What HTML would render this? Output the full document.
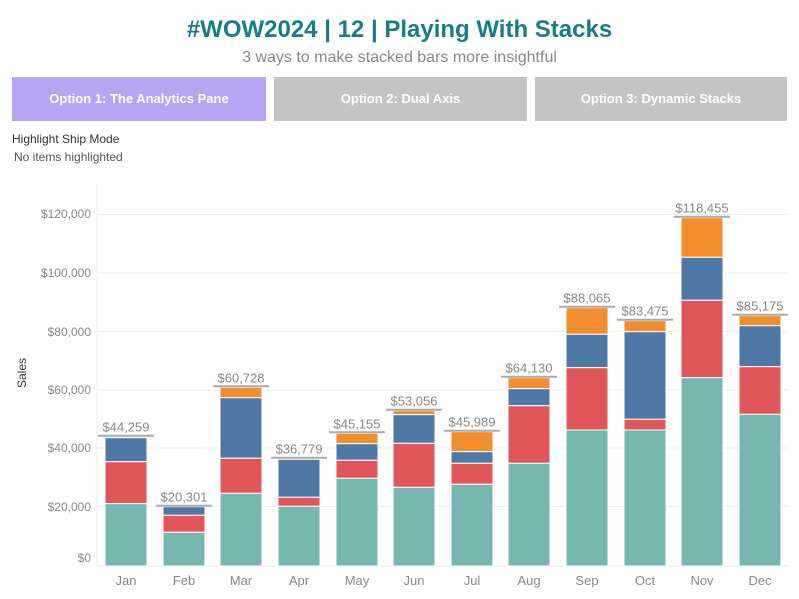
<!DOCTYPE html>
<html><head><meta charset="utf-8"><style>
body{margin:0;width:799px;height:599px;background:#fff;font-family:"Liberation Sans",sans-serif;overflow:hidden;position:relative}
.t{position:absolute;left:0;width:799px;text-align:center}
.btn{position:absolute;top:77px;height:44px;line-height:44px;text-align:center;color:#fff;font-weight:bold;font-size:13px}
</style></head><body>
<div class="t" style="top:16px;font-size:24px;font-weight:bold;color:#177e89">#WOW2024 | 12 | Playing With Stacks</div>
<div class="t" style="top:49px;font-size:16px;color:#888">3 ways to make stacked bars more insightful</div>
<div class="btn" style="left:12px;width:254px;background:#b7a4f3">Option 1: The Analytics Pane</div>
<div class="btn" style="left:274px;width:253px;background:#c4c4c4">Option 2: Dual Axis</div>
<div class="btn" style="left:535px;width:252px;background:#c4c4c4">Option 3: Dynamic Stacks</div>
<div style="position:absolute;left:12px;top:132px;font-size:12px;color:#333">Highlight Ship Mode</div>
<div style="position:absolute;left:14px;top:150px;font-size:12px;color:#555">No items highlighted</div>
<svg width="799" height="599" style="position:absolute;left:0;top:0" font-family="Liberation Sans, sans-serif">
<g stroke="#eeeeee" stroke-width="1">
<line x1="97" y1="214.5" x2="788" y2="214.5"/><line x1="97" y1="273" x2="788" y2="273"/>
<line x1="97" y1="331.5" x2="788" y2="331.5"/><line x1="97" y1="390" x2="788" y2="390"/>
<line x1="97" y1="448" x2="788" y2="448"/><line x1="97" y1="506.5" x2="788" y2="506.5"/>
<line x1="97" y1="566" x2="788" y2="566"/><line x1="97" y1="183" x2="97" y2="566"/>
</g>
<g font-size="12" fill="#888" text-anchor="end">
<text x="91" y="218">$120,000</text><text x="91" y="277">$100,000</text><text x="91" y="336">$80,000</text>
<text x="91" y="394">$60,000</text><text x="91" y="452">$40,000</text><text x="91" y="511">$20,000</text><text x="91" y="562">$0</text>
</g>
<text x="26" y="373" font-size="12" fill="#333" transform="rotate(-90 26 373)" text-anchor="middle">Sales</text>
<g id="bars" stroke="#fff" stroke-width="1"></g>
<g id="lbl"></g>
</svg>
<script>
var d=[
["Jan",105,null,437.7,461.7,503.7,435.7,"$44,259"],
["Feb",163,null,506.7,515.3,532.3,505.7,"$20,301"],
["Mar",220,387.3,397.7,458.3,493.3,386.3,"$60,728"],
["Apr",278,null,459.3,497.3,506.3,457.7,"$36,779"],
["May",336,433.3,443.7,460.3,478.3,432.3,"$45,155"],
["Jun",393,410.7,414.7,443.3,487.3,409.7,"$53,056"],
["Jul",451,431.7,451.7,463.3,484.3,430.7,"$45,989"],
["Aug",508,377.7,388.7,405.7,463.3,376.7,"$64,130"],
["Sep",566,307.7,334.3,367.7,430,306.7,"$88,065"],
["Oct",624,320.7,331.7,419.3,430,319.7,"$83,475"],
["Nov",681,217.7,257.3,300.3,377.7,216.7,"$118,455"],
["Dec",739,315.7,325.7,366.7,414.3,314.7,"$85,175"]];
var cols=["#f28e2b","#4e79a7","#e15759","#76b7b2"],b="",l="";
d.forEach(function(r){var x=r[1],tops=[r[2],r[3],r[4],r[5]],bot=[r[3],r[4],r[5],566];
for(var i=0;i<4;i++){if(tops[i]==null)continue;b+='<rect x="'+x+'" y="'+tops[i]+'" width="42" height="'+(bot[i]-tops[i])+'" fill="'+cols[i]+'"/>';}
var c=x+21;l+='<line x1="'+(c-28)+'" y1="'+r[6]+'" x2="'+(c+28)+'" y2="'+r[6]+'" stroke="#aaa" stroke-width="2"/>';
l+='<text x="'+c+'" y="'+(r[6]-4)+'" font-size="13" fill="#888" text-anchor="middle">'+r[7]+'</text>';
l+='<text x="'+c+'" y="585" font-size="13" fill="#888" text-anchor="middle">'+r[0]+'</text>';});
document.getElementById("bars").innerHTML=b;document.getElementById("lbl").innerHTML=l;
</script>
</body></html>
